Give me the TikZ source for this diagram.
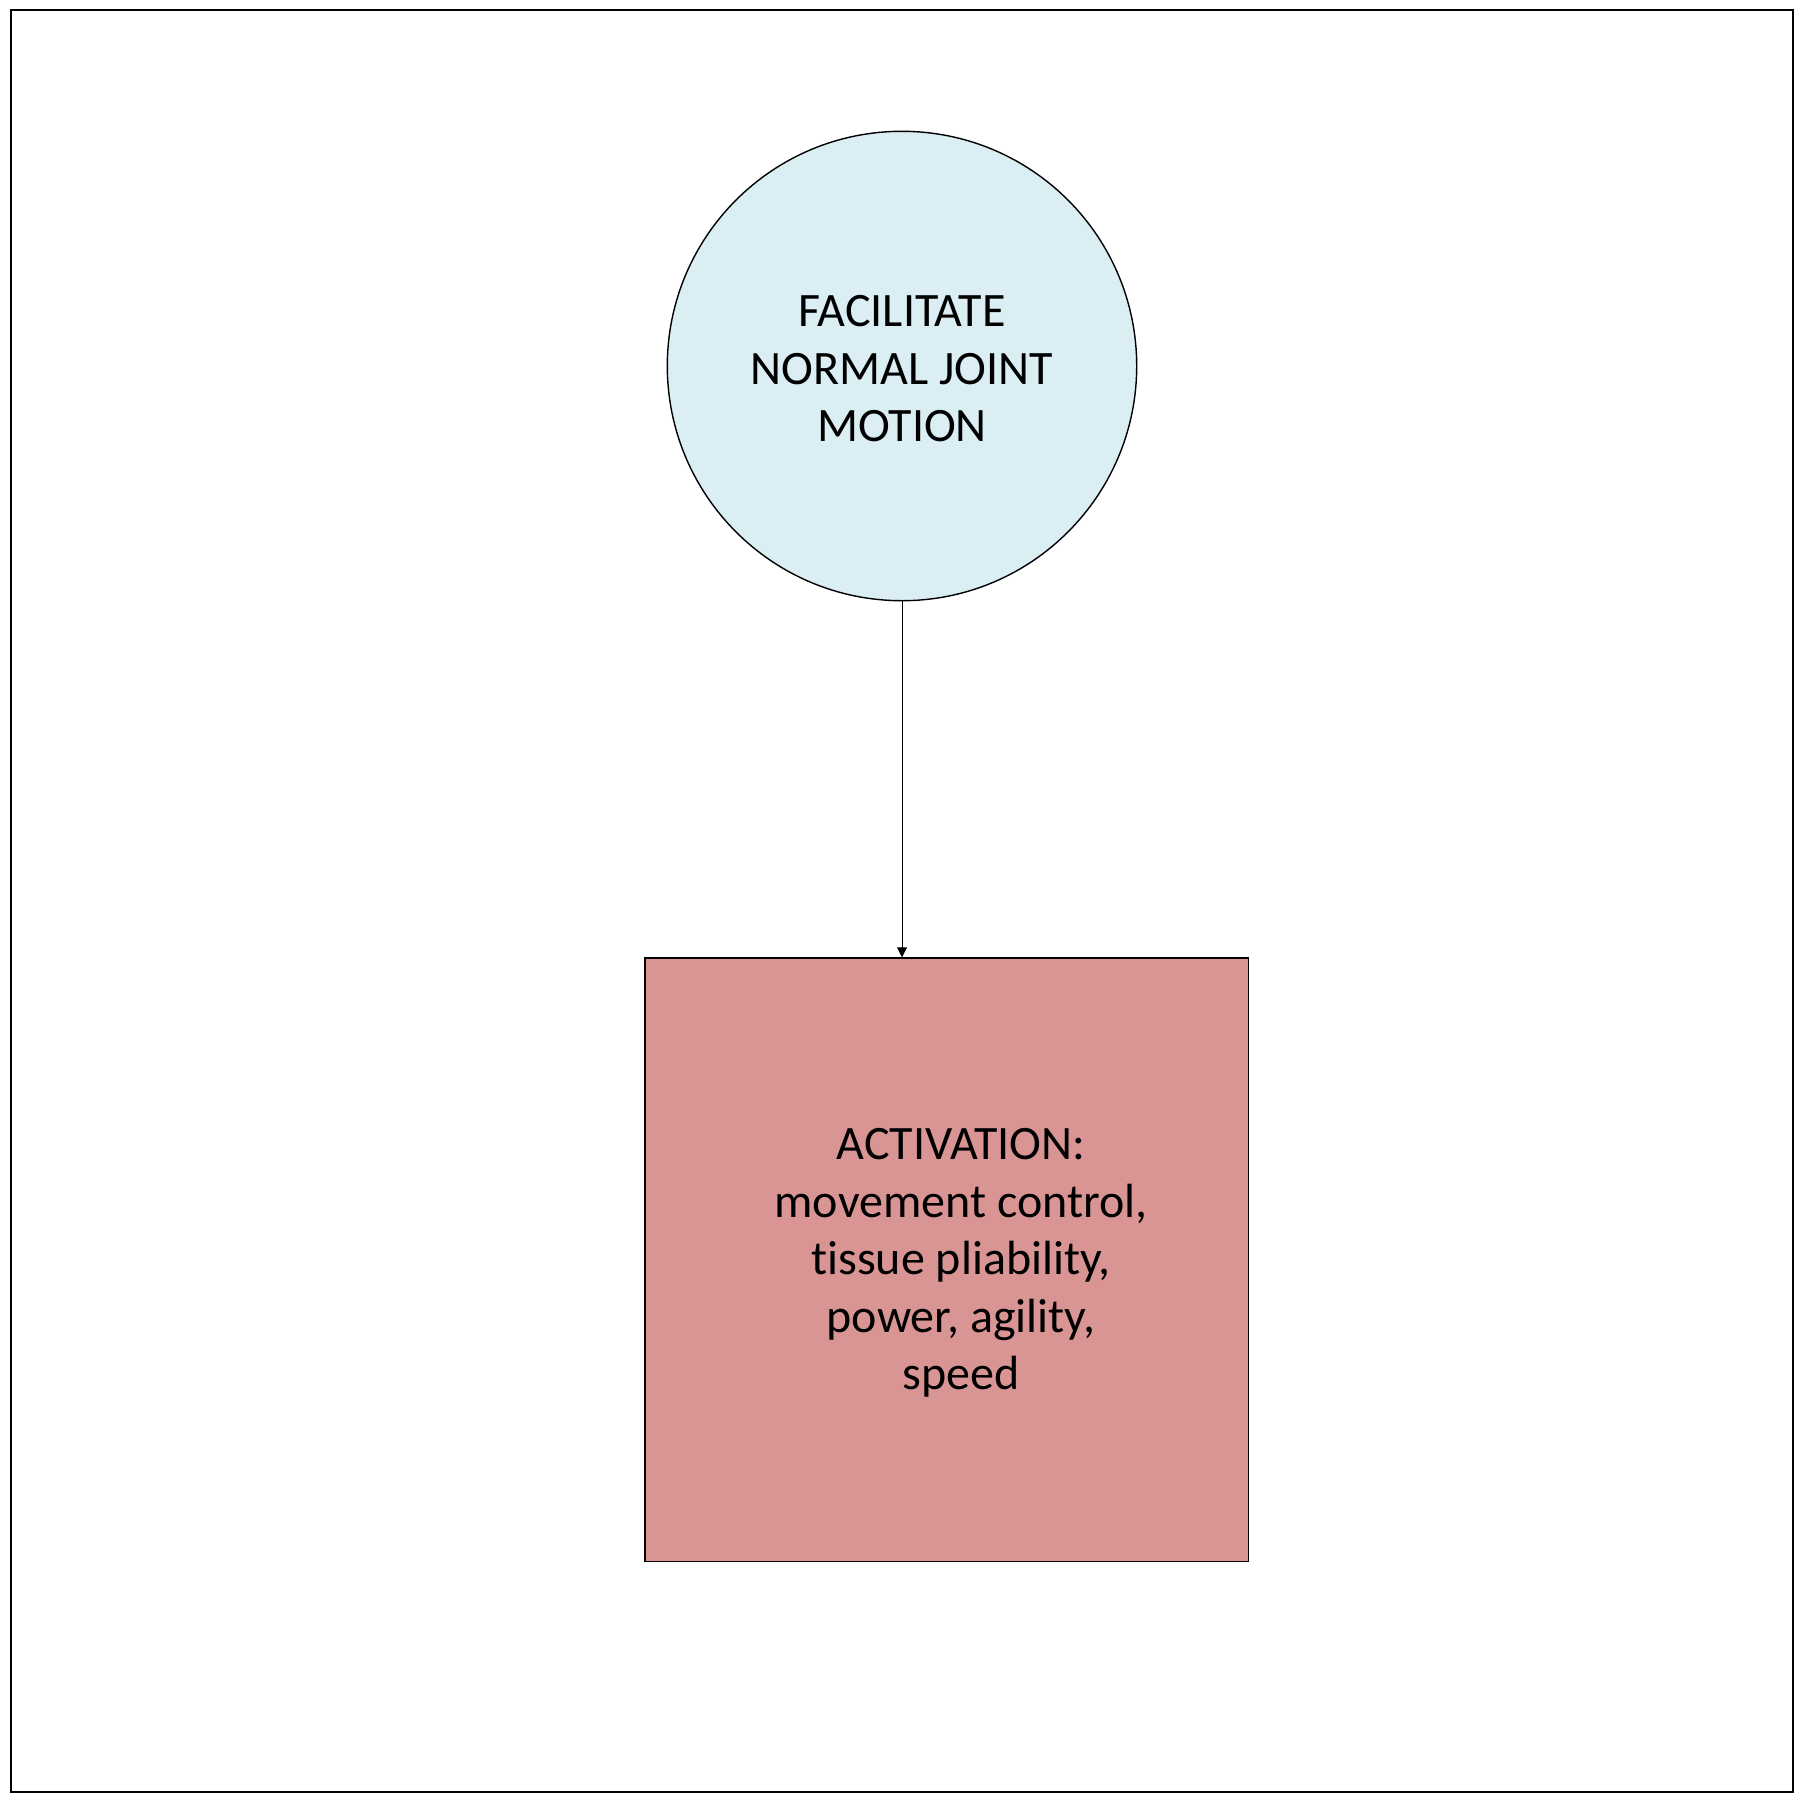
\documentclass[tikz,border=0pt]{standalone}
\usepackage{fontspec}
\setmainfont{Carlito}[Ligatures={NoCommon}]
\usetikzlibrary{arrows.meta}
\definecolor{circfill}{HTML}{DAEEF3}
\definecolor{sqfill}{HTML}{D99594}
\begin{document}
\begin{tikzpicture}[x=1pt,y=-1pt,
  lbl/.style={font=\fontsize{48}{57.5}\selectfont, align=center, text=black},
  goalcirc/.style={circle, draw=black, line width=1.4pt, fill=circfill, minimum size=469.4pt, inner sep=0pt},
  stagebox/.style={rectangle, draw=black, line width=1.4pt, fill=sqfill, minimum width=603.3pt, minimum height=603.3pt, inner sep=0pt},
  conn/.style={draw=black, line width=1pt, -{Triangle[length=10pt,width=10pt]}}]
\useasboundingbox (0,0) rectangle (1804,1804);
\draw[line width=2pt] (11,10) rectangle (1793,1792);
\node[goalcirc] (goal) at (902,366) {};
\node[lbl] (goaltext) at (902,369) {FACILITATE\\NORMAL JOINT\\MOTION};
\node[stagebox] (act) at (946.6,1259.6) {};
\node[lbl] (acttext) at (961,1263) {ACTIVATION:\\movement control,\\tissue pliability,\\power, agility,\\speed};
\draw[conn] (goal.south) -- (goal.south |- act.north);
\end{tikzpicture}
\end{document}
